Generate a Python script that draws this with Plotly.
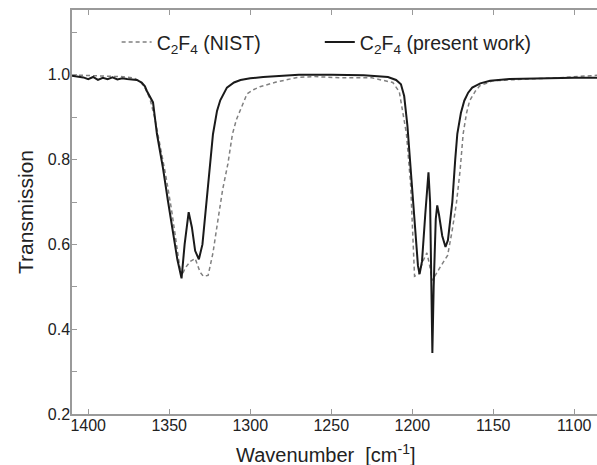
"""C2F4 IR transmission spectrum: NIST reference vs present work."""

import plotly.graph_objects as go

# wavenumber [cm^-1] / transmission
nist_wn = [1410, 1400, 1390, 1380, 1372, 1368, 1365, 1362, 1359, 1356, 1352,
           1348.5, 1346, 1344, 1342.5, 1340, 1337, 1334, 1331, 1329, 1326,
           1323, 1320, 1317, 1313.8, 1311, 1308.5, 1306.4, 1302, 1298, 1294,
           1284, 1271, 1260, 1245, 1225, 1212, 1208, 1205.5, 1203.6, 1201,
           1199.5, 1198.6, 1196, 1193.5, 1191, 1189.5, 1187.7, 1185.5, 1182.7,
           1178.2, 1175.5, 1172.8, 1170.5, 1168.6, 1166.5, 1164.6, 1161,
           1158.4, 1150.4, 1130, 1110, 1090, 1086]
nist_t = [1.0, 0.998, 0.997, 0.996, 0.993, 0.985, 0.97, 0.945, 0.90, 0.84, 0.76,
          0.68, 0.61, 0.56, 0.525, 0.545, 0.56, 0.567, 0.535, 0.525, 0.527,
          0.58, 0.656, 0.73, 0.79, 0.86, 0.895, 0.915, 0.955, 0.965, 0.972,
          0.983, 0.994, 0.996, 0.993, 0.993, 0.982, 0.96, 0.9, 0.861, 0.74,
          0.6, 0.525, 0.53, 0.56, 0.58, 0.555, 0.515, 0.53, 0.547,
          0.574, 0.63, 0.696, 0.774, 0.861, 0.91, 0.939, 0.962,
          0.974, 0.986, 0.99, 0.993, 0.998, 0.999]

work_wn = [1410, 1406, 1403, 1400, 1397, 1394, 1391, 1388, 1385, 1382, 1379,
           1376, 1373, 1370, 1367, 1365, 1363.8, 1362, 1360, 1357.6, 1353.9,
           1350.8, 1347.7, 1345, 1342.4, 1340.5, 1338, 1336, 1334, 1331.7,
           1329.5, 1327, 1325, 1323, 1320.5, 1318.5, 1314.4, 1310, 1306, 1300,
           1292, 1280, 1270, 1250, 1230, 1215, 1210, 1207, 1205, 1203, 1201,
           1199.5, 1198, 1196.5, 1195.5, 1194, 1192, 1190, 1189, 1188.3,
           1187.6, 1186.8, 1185.5, 1184.6, 1183.5, 1181.5, 1179.5, 1178,
           1176.5, 1175.3, 1173.5, 1172.2, 1170, 1167.9, 1165.5, 1163, 1158,
           1152, 1140, 1120, 1100, 1086]
work_t = [0.998, 0.996, 0.994, 0.99, 0.995, 0.988, 0.993, 0.99, 0.994, 0.989,
          0.992, 0.99, 0.989, 0.988, 0.982, 0.973, 0.962, 0.95, 0.935, 0.861,
          0.781, 0.703, 0.626, 0.565, 0.52, 0.6, 0.676, 0.64, 0.585, 0.565,
          0.6, 0.7, 0.79, 0.86, 0.915, 0.94, 0.97, 0.982, 0.988, 0.992,
          0.995, 0.998, 1.0, 1.0, 0.999, 0.995, 0.988, 0.978, 0.95, 0.88, 0.78,
          0.7, 0.62, 0.55, 0.53, 0.56, 0.67, 0.77, 0.70, 0.56,
          0.344, 0.5, 0.66, 0.692, 0.67, 0.62, 0.594, 0.61,
          0.66, 0.70, 0.8, 0.861, 0.91, 0.939, 0.958, 0.97, 0.98,
          0.986, 0.99, 0.992, 0.993, 0.993]

y_ticks = [0.2, 0.4, 0.6, 0.8, 1.0]
x_ticks = [1400, 1350, 1300, 1250, 1200, 1150, 1100]

FONT = "Liberation Sans, Arial, sans-serif"
AXIS = "#9a9a9a"

fig = go.Figure()
fig.add_trace(go.Scatter(
    x=nist_wn, y=nist_t, mode="lines",
    name="C<sub>2</sub>F<sub>4</sub> (NIST)",
    line=dict(color="#808080", width=1.5, dash="4px,3px"),
    legend="legend", showlegend=True,
))
fig.add_trace(go.Scatter(
    x=work_wn, y=work_t, mode="lines",
    name="C<sub>2</sub>F<sub>4</sub> (present work)",
    line=dict(color="#1a1a1a", width=2),
    legend="legend2", showlegend=True,
))

leg = dict(y=0.92, xanchor="left", yanchor="middle",
           font=dict(size=19.5), bgcolor="rgba(0,0,0,0)")
fig.update_layout(
    width=597, height=465,
    margin=dict(l=72, r=0, t=10, b=51),
    paper_bgcolor="white", plot_bgcolor="white",
    font=dict(family=FONT, size=16, color="#222222"),
    showlegend=True,
    legend=dict(x=0.085, **leg),
    legend2=dict(x=0.472, **leg),
    annotations=[dict(
        text="Wavenumber  [cm<sup>-1</sup>]", xref="paper", yref="paper",
        x=0.484, y=-0.097, xanchor="center", yanchor="middle",
        showarrow=False, font=dict(size=20),
    )],
)
fig.update_xaxes(
    range=[1410, 1086], tickvals=x_ticks, automargin=False,
    ticks="inside", ticklen=5, tickcolor=AXIS, tickwidth=1,
    showline=True, linecolor=AXIS, linewidth=1.5, mirror="ticks",
    showgrid=False, zeroline=False,
    tickfont=dict(size=16), ticklabelstandoff=-4,
)
fig.update_yaxes(
    range=[0.2, 1.153], tickvals=y_ticks, tickformat=".1f", automargin=False,
    ticks="inside", ticklen=5, tickcolor=AXIS, tickwidth=1,
    minor=dict(dtick=0.1, tick0=0.1, ticks="inside", ticklen=5, tickcolor=AXIS),
    showline=True, linecolor=AXIS, linewidth=1.5,
    showgrid=False, zeroline=False,
    tickfont=dict(size=16), ticklabelstandoff=-3,
    title=dict(text="Transmission", font=dict(size=21), standoff=8),
)

# page has a default body margin; drop it so the figure sits at (0, 0)
fig.write_html(
    "out.html",
    config={"displayModeBar": False},
    post_script="document.body.style.margin = '0';",
)
